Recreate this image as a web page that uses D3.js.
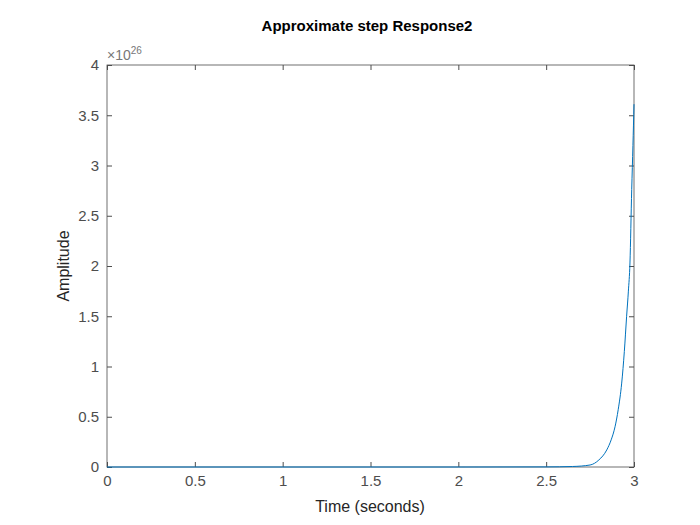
<!DOCTYPE html>
<html><head><meta charset="utf-8">
<script src="https://cdn.jsdelivr.net/npm/d3@7"></script>
<style>body{margin:0;background:#fff}text{font-family:"Liberation Sans",Arial,sans-serif}</style>
</head><body><svg id="c" width="700" height="525"></svg>
<script>
// amplitude in units of 1e26
const time = [0, 0.5, 1, 1.5, 2, 2.5, 2.65, 2.75, 2.8, 2.845, 2.87, 2.892, 2.91, 2.93, 2.945, 2.958, 2.968, 2.977, 2.987, 2.994, 3.0];
const amp  = [0, 0, 0, 0, 0, 0.001, 0.005, 0.02, 0.07, 0.17, 0.27, 0.40, 0.57, 0.835, 1.15, 1.50, 1.75, 2.03, 2.76, 3.2, 3.61];
const xTicks = [0, 0.5, 1, 1.5, 2, 2.5, 3];
const yTicks = [0, 0.5, 1, 1.5, 2, 2.5, 3, 3.5, 4];

const svg = d3.select("#c");
const x = d3.scaleLinear().domain([0, 3]).range([107, 634]);
const y = d3.scaleLinear().domain([0, 4]).range([467, 65]);
const grey = "#4d4d4d";

svg.append("rect").attr("x", 107).attr("y", 65).attr("width", 527).attr("height", 402)
  .attr("fill", "none").attr("stroke", grey).attr("stroke-width", 0.8);

const xb = svg.append("g").attr("transform", "translate(0,467)")
  .call(d3.axisBottom(x).tickValues(xTicks).tickFormat(d3.format("")).tickSize(-5).tickPadding(8));
const xt = svg.append("g").attr("transform", "translate(0,65)")
  .call(d3.axisTop(x).tickValues(xTicks).tickSize(-5).tickFormat(""));
const yl = svg.append("g").attr("transform", "translate(107,0)")
  .call(d3.axisLeft(y).tickValues(yTicks).tickFormat(d3.format("")).tickSize(-5).tickPadding(8));
const yr = svg.append("g").attr("transform", "translate(634,0)")
  .call(d3.axisRight(y).tickValues(yTicks).tickSize(-5).tickFormat(""));
[xb, xt, yl, yr].forEach(g => {
  g.select(".domain").remove();
  g.selectAll("line").attr("stroke", grey);
  g.selectAll("text").attr("fill", "#4d4d4d").attr("font-size", 15);
});

svg.append("path").datum(time.map((t, i) => [t, amp[i]]))
  .attr("fill", "none").attr("stroke", "#0072bd").attr("stroke-width", 1)
  .attr("d", d3.line().curve(d3.curveMonotoneX).x(d => x(d[0])).y(d => y(d[1])));

svg.append("text").attr("x", 367).attr("y", 31).attr("text-anchor", "middle")
  .attr("font-size", 15).attr("font-weight", "bold").attr("fill", "#000").text("Approximate step Response2");
svg.append("text").attr("x", 370).attr("y", 512).attr("text-anchor", "middle")
  .attr("font-size", 16).attr("fill", "#262626").text("Time (seconds)");
svg.append("text").attr("transform", "translate(69,266) rotate(-90)").attr("text-anchor", "middle")
  .attr("font-size", 16).attr("fill", "#262626").text("Amplitude");
const ex = svg.append("text").attr("x", 107).attr("y", 60).attr("font-size", 14).attr("fill", "#777");
ex.append("tspan").text("×10");
ex.append("tspan").attr("dy", -6).attr("font-size", 10).text("26");
</script></body></html>
